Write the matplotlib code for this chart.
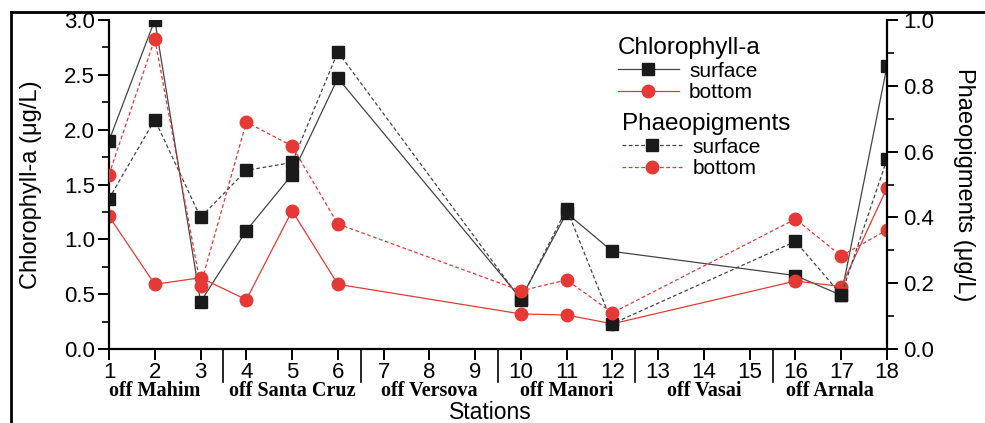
import numpy as np
import matplotlib
matplotlib.use('agg')
import matplotlib.pyplot as plt
from matplotlib.lines import Line2D
from matplotlib.ticker import MultipleLocator

## data
stations = [1, 2, 3, 4, 5, 6, 10, 11, 12, 16, 17, 18]
chl_surface = [1.90, 3.00, 0.43, 1.08, 1.59, 2.47, 0.46, 1.24, 0.89, 0.67, 0.49, 2.58]
chl_bottom = [1.21, 0.59, 0.65, 0.45, 1.26, 0.59, 0.32, 0.31, 0.23, 0.62, 0.57, 1.47]
phaeo_surface = [0.457, 0.697, 0.400, 0.543, 0.567, 0.903, 0.150, 0.427, 0.077, 0.327, 0.165, 0.577]
phaeo_bottom = [0.530, 0.943, 0.193, 0.690, 0.617, 0.380, 0.177, 0.210, 0.110, 0.395, 0.283, 0.362]

regions = ["off Mahim", "off Santa Cruz", "off Versova", "off Manori", "off Vasai", "off Arnala"]
region_pos = [2, 5, 8, 11, 14, 16.75]
separators = [3.5, 6.5, 9.5, 12.5, 15.5]

black = '#1a1a1a'
red = '#e53935'

plt.rcParams['font.family'] = ['Liberation Sans', 'DejaVu Sans']

fig = plt.figure(figsize=(9.85, 4.23), dpi=100)
ax = fig.add_axes([0.1107, 0.1749, 0.7898, 0.7778])
ax2 = ax.twinx()

# chlorophyll on left axis
ax.plot(stations, chl_surface, color='#444444', lw=0.9, marker='s', ms=8.5,
        mfc=black, mec=black, label='surface')
ax.plot(stations, chl_bottom, color=red, lw=0.9, marker='o', ms=9,
        mfc=red, mec=red, label='bottom')

# phaeopigments on right axis
ax2.plot(stations, phaeo_surface, color='#444444', lw=0.9, ls=(0, (3, 2)), marker='s', ms=8.5,
         mfc=black, mec=black, label='surface')
ax2.plot(stations, phaeo_bottom, color=red, lw=0.9, ls=(0, (3, 2)), marker='o', ms=9,
         mfc=red, mec=red, label='bottom')

ax.set_xlim(1, 18)
ax.set_ylim(0, 3)
ax2.set_ylim(0, 1)
ax.set_xticks(range(1, 19))
ax.yaxis.set_major_locator(MultipleLocator(0.5))
ax.yaxis.set_minor_locator(MultipleLocator(0.25))
ax2.yaxis.set_major_locator(MultipleLocator(0.2))
ax2.yaxis.set_minor_locator(MultipleLocator(0.1))

for a in (ax, ax2):
    a.spines['top'].set_visible(False)
    for s in a.spines.values():
        s.set_linewidth(1.6)
ax.spines['right'].set_visible(False)
ax2.spines['left'].set_visible(False)
ax2.spines['bottom'].set_visible(False)

ax.tick_params(axis='both', which='major', direction='out', length=8, width=1.4, labelsize=16)
ax.tick_params(axis='y', which='minor', direction='out', length=5, width=1.2)
ax2.tick_params(axis='y', which='major', direction='out', length=8, width=1.4, labelsize=16)
ax2.tick_params(axis='y', which='minor', direction='out', length=5, width=1.2)
ax.tick_params(axis='x', pad=1)
ax.tick_params(axis='y', pad=2)

ax.yaxis.set_major_formatter(matplotlib.ticker.FormatStrFormatter('%.1f'))
ax2.yaxis.set_major_formatter(matplotlib.ticker.FormatStrFormatter('%.1f'))

ax.set_ylabel('Chlorophyll-a (\u03bcg/L)', fontsize=17)
ax.yaxis.set_label_coords(-0.086, 0.5)
ax2.set_ylabel('Phaeopigments (\u03bcg/L)', fontsize=17, rotation=-90, va='bottom')
ax2.yaxis.set_label_coords(1.085, 0.5)
ax.set_xlabel('Stations', fontsize=16.5)
ax.xaxis.set_label_coords(0.49, -0.157)

# region separators and labels below the axis
trans = ax.get_xaxis_transform()
for sx in separators:
    ax.plot([sx, sx], [0, -0.1], transform=trans, color='black', lw=1.2, clip_on=False)
for name, px in zip(regions, region_pos):
    ax.text(px, -0.128, name, transform=trans, ha='center', va='center',
            fontsize=14.5, fontweight='bold', family='Liberation Serif')

# legends
h1 = [Line2D([], [], color='#444444', lw=0.9, marker='s', ms=8.5, mfc=black, mec=black),
      Line2D([], [], color=red, lw=0.9, marker='o', ms=9, mfc=red, mec=red)]
h2 = [Line2D([], [], color='#444444', lw=0.9, ls=(0, (3, 2)), marker='s', ms=8.5, mfc=black, mec=black),
      Line2D([], [], color=red, lw=0.9, ls=(0, (3, 2)), marker='o', ms=9, mfc=red, mec=red)]
leg1 = fig.legend(h1, ['surface', 'bottom'], title='Chlorophyll-a', loc='upper left',
                  bbox_to_anchor=(0.617, 0.937), frameon=False, fontsize=15, title_fontsize=17.5,
                  alignment='left', handlelength=2.9, borderpad=0, handletextpad=0.5,
                  labelspacing=0.12)
leg2 = fig.legend(h2, ['surface', 'bottom'], title='Phaeopigments', loc='upper left',
                  bbox_to_anchor=(0.621, 0.757), frameon=False, fontsize=15, title_fontsize=17.5,
                  alignment='left', handlelength=2.9, borderpad=0, handletextpad=0.5,
                  labelspacing=0.12)

# partial frame round the figure
fig.add_artist(Line2D([0.011, 1.0], [0.972, 0.972], transform=fig.transFigure, color='black', lw=2))
fig.add_artist(Line2D([0.011, 0.011], [0.0, 0.972], transform=fig.transFigure, color='black', lw=2))

fig.savefig('out.png', dpi=100)
